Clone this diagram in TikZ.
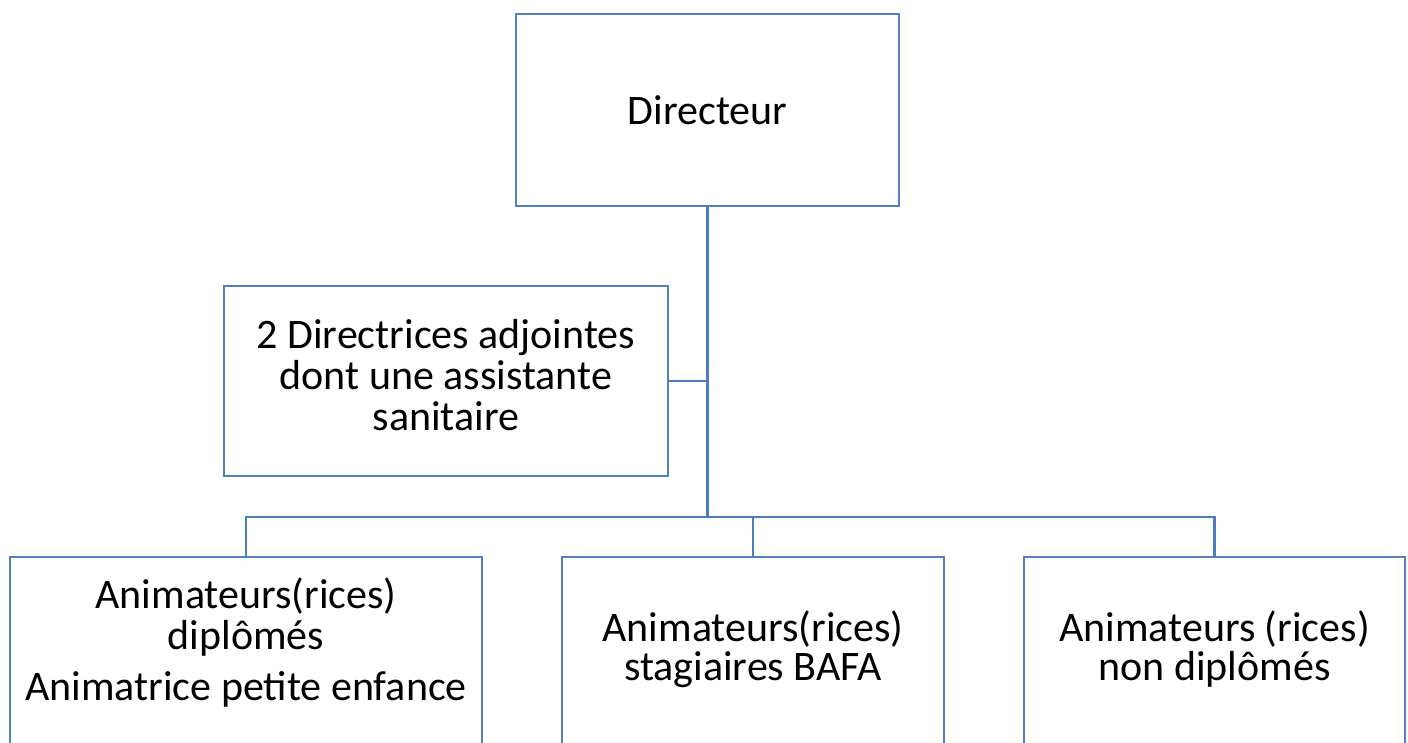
\documentclass[tikz,border=0pt]{standalone}
\usepackage{fontspec}
\setmainfont{Carlito}
\definecolor{boxblue}{HTML}{4F81BD}
\definecolor{linkblue}{HTML}{4A7EBB}
\newcommand\topstrut{\rule{0pt}{28.7pt}}
\newcommand\botstrut[1][12.3pt]{\rule[-#1]{0pt}{1pt}}
\tikzset{
  orgbox/.style={draw=boxblue, line width=2.6pt, fill=white, rectangle, align=center,
    inner sep=0pt, outer sep=0pt, font=\fontsize{42}{41}\selectfont},
  link/.style={draw=linkblue, line width=2.6pt}
}
\begin{document}
\begin{tikzpicture}[x=1pt,y=-1pt]
\useasboundingbox (0,0) rectangle (1408,743);
\clip (0,0) rectangle (1408,743);
\fill[white] (0,0) rectangle (1408,743);
\coordinate (hub) at (707.5,517);
\node[orgbox, minimum width=383pt, minimum height=192pt] (dir) at (707.5,110) {Directeur};
\node[orgbox, minimum width=444pt, minimum height=190pt] (adj) at (446,381)
  {\topstrut 2 Directrices adjointes\\dont une assistante\\sanitaire\botstrut};
\node[orgbox, minimum width=472pt, minimum height=190pt] (a1) at (246,652)
  {\topstrut Animateurs(rices)\\diplômés\\[10pt]Animatrice petite enfance\botstrut[26pt]};
\node[orgbox, minimum width=382pt, minimum height=190pt] (a2) at (753,652)
  {\topstrut Animateurs(rices)\\[-2pt]stagiaires BAFA\botstrut};
\node[orgbox, minimum width=381pt, minimum height=190pt] (a3) at (1214.5,652)
  {\topstrut Animateurs (rices)\\[-2pt]non diplômés\botstrut};
\draw[link] (dir.south) -- (hub);
\draw[link] (adj.east) -- (adj.east -| dir.south);
\draw[link] (a1.north) -- (a1.north |- hub) -- (a3.north |- hub) -- (a3.north);
\draw[link] (a2.north) -- (a2.north |- hub);
\end{tikzpicture}
\end{document}
